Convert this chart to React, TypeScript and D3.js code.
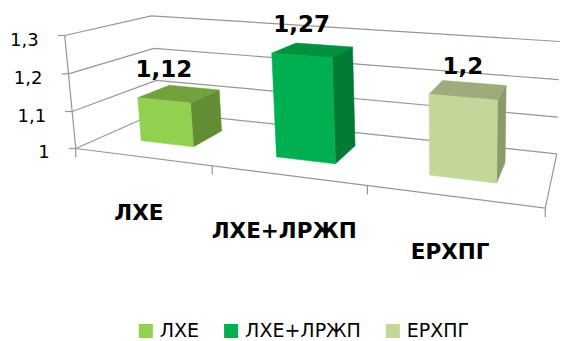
import React, { useEffect, useRef } from "react";
import * as d3 from "d3";

// Series data
const categories = ["ЛХЕ", "ЛХЕ+ЛРЖП", "ЕРХПГ"];
const values = [1.12, 1.27, 1.2];
const tickValues = [1, 1.1, 1.2, 1.3];
const valueDomain = [1, 1.3];

// Face colours per bar: front, top, right side
const frontFills = ["#92D050", "#00B050", "#C4D79B"];
const topFills = ["#73A13D", "#00913F", "#9DAC7B"];
const sideFills = ["#628D33", "#007A34", "#8A9A69"];

const W = 561;
const H = 341;
const FONT = "'DejaVu Sans', sans-serif";

// Corners of the 3-D plot box: [category fraction, value fraction, depth fraction] -> screen px
const frameAnchors: { box: [number, number, number]; px: [number, number] }[] = [
  { box: [0, 0, 0], px: [77, 148] },
  { box: [0, 1, 0], px: [65, 35] },
  { box: [0, 1 / 3, 0], px: [72, 111] },
  { box: [0, 2 / 3, 0], px: [68, 74] },
  { box: [0, 1, 1], px: [152, 16] },
  { box: [0, 2 / 3, 1], px: [153, 49] },
  { box: [1, 0, 0], px: [544, 208] },
  { box: [1, 0, 1], px: [557, 153] },
  { box: [1 / 3, 0, 0], px: [210, 166] },
  { box: [2 / 3, 0, 0], px: [370, 187] },
];

// Bars occupy the middle of the floor depth
const barDepth: [number, number] = [0.3, 0.7];

const ruLocale = d3.formatLocale({
  decimal: ",",
  thousands: "\u00a0",
  grouping: [3],
  currency: ["", " ₽"],
});
const fmt = ruLocale.format("~g");

// Fit a perspective (3x4) projection to the frame anchors by least squares
function fitProjection(anchors: typeof frameAnchors) {
  const cx = 300, cy = 150, s = 300;
  const rows: number[][] = [];
  const rhs: number[] = [];
  anchors.forEach(({ box: [u, v, w], px: [X, Y] }) => {
    const x = (X - cx) / s;
    const y = (Y - cy) / s;
    rows.push([u, v, w, 1, 0, 0, 0, 0, -x * u, -x * v, -x * w]);
    rhs.push(x);
    rows.push([0, 0, 0, 0, u, v, w, 1, -y * u, -y * v, -y * w]);
    rhs.push(y);
  });
  const n = 11;
  const M = Array.from({ length: n }, () => new Array(n + 1).fill(0));
  rows.forEach((r, k) => {
    for (let i = 0; i < n; i++) {
      for (let j = 0; j < n; j++) M[i][j] += r[i] * r[j];
      M[i][n] += r[i] * rhs[k];
    }
  });
  for (let c = 0; c < n; c++) {
    let p = c;
    for (let r = c + 1; r < n; r++) if (Math.abs(M[r][c]) > Math.abs(M[p][c])) p = r;
    [M[c], M[p]] = [M[p], M[c]];
    for (let r = 0; r < n; r++) {
      if (r === c) continue;
      const f = M[r][c] / M[c][c];
      for (let k = c; k <= n; k++) M[r][k] -= f * M[c][k];
    }
  }
  const m = M.map((r, i) => r[n] / r[i]);
  return (u: number, v: number, w: number): [number, number] => {
    const d = m[8] * u + m[9] * v + m[10] * w + 1;
    return [
      ((m[0] * u + m[1] * v + m[2] * w + m[3]) / d) * s + cx,
      ((m[4] * u + m[5] * v + m[6] * w + m[7]) / d) * s + cy,
    ];
  };
}

export default function App() {
  const ref = useRef<SVGSVGElement>(null);

  useEffect(() => {
    const svg = d3.select(ref.current);
    svg.selectAll("*").remove();

    const project = fitProjection(frameAnchors);
    const xBand = d3.scaleBand<string>().domain(categories).range([0, 1]).paddingInner(0.6).paddingOuter(0.3);
    const yVal = d3.scaleLinear().domain(valueDomain).range([0, 1]);
    const line = d3.line<[number, number]>();

    const gridColor = "#969696";
    const grid = svg.append("g").attr("fill", "none").attr("stroke", gridColor).attr("stroke-width", 1.2);

    // walls: gridlines along side wall and back wall
    tickValues.forEach((t) => {
      const v = yVal(t);
      grid.append("path").attr("d", line([project(0, v, 0), project(0, v, 1), project(1, v, 1)]));
    });
    // floor front and right edges
    grid.append("path").attr("d", line([project(0, 0, 0), project(1, 0, 0), project(1, 0, 1)]));
    // value axis
    grid.append("path").attr("d", line([project(0, 0, 0), project(0, 1, 0)]));

    // value ticks and labels
    tickValues.forEach((t) => {
      const [x, y] = project(0, yVal(t), 0);
      grid.append("path").attr("d", line([[x - 7, y], [x, y]]));
      svg.append("text")
        .attr("x", x - 26)
        .attr("y", y + 10)
        .attr("text-anchor", "end")
        .attr("font-family", FONT)
        .attr("font-size", 18)
        .attr("fill", "#000")
        .text(fmt(t));
    });

    // category boundary ticks on the front floor edge
    d3.range(categories.length + 1).forEach((i) => {
      const [x, y] = project(i / categories.length, 0, 0);
      grid.append("path").attr("d", line([[x, y], [x, y + 9]]));
    });

    // bars
    const [w0, w1] = barDepth;
    const bars = svg.append("g");
    categories.forEach((c, i) => {
      const u0 = xBand(c)!;
      const u1 = u0 + xBand.bandwidth();
      const v0 = 0;
      const v1 = yVal(values[i]);
      const face = (pts: [number, number, number][], fill: string) =>
        bars.append("path")
          .attr("d", line(pts.map(([u, v, w]) => project(u, v, w)))! + "Z")
          .attr("fill", fill)
          .attr("stroke", fill)
          .attr("stroke-width", 0.6)
          .attr("stroke-linejoin", "round");
      face([[u1, v0, w0], [u1, v0, w1], [u1, v1, w1], [u1, v1, w0]], sideFills[i]);
      face([[u0, v1, w0], [u1, v1, w0], [u1, v1, w1], [u0, v1, w1]], topFills[i]);
      face([[u0, v0, w0], [u1, v0, w0], [u1, v1, w0], [u0, v1, w0]], frontFills[i]);

      const [lx, ly] = project((u0 + u1) / 2, v1, w0);
      svg.append("text")
        .attr("x", lx)
        .attr("y", ly - 23)
        .attr("text-anchor", "middle")
        .attr("font-family", FONT)
        .attr("font-weight", "bold")
        .attr("font-size", 23)
        .attr("fill", "#000")
        .text(fmt(values[i]));

      const [cxp, cyp] = project((u0 + u1) / 2, 0, 0);
      svg.append("text")
        .attr("x", cxp - 3)
        .attr("y", cyp + 63)
        .attr("text-anchor", "middle")
        .attr("font-family", FONT)
        .attr("font-weight", "bold")
        .attr("font-size", 21.5)
        .attr("fill", "#000")
        .text(c);
    });

    // legend, centred under the plot
    const legend = svg.append("g");
    const sw = 14, gap = 7, itemGap = 25, baseline = 337;
    let cursor = 0;
    categories.forEach((c, i) => {
      const item = legend.append("g").attr("transform", `translate(${cursor},0)`);
      item.append("rect").attr("x", 0).attr("y", baseline - sw + 1).attr("width", sw).attr("height", sw).attr("fill", frontFills[i]);
      const t = item.append("text")
        .attr("x", sw + gap)
        .attr("y", baseline)
        .attr("font-family", FONT)
        .attr("font-size", 19)
        .attr("fill", "#000")
        .text(c);
      const tw = (t.node() as SVGTextElement).getComputedTextLength();
      cursor += sw + gap + tw + itemGap;
    });
    const total = cursor - itemGap;
    legend.attr("transform", `translate(${(304 - total / 2).toFixed(1)},0)`);
  }, []);

  return (
    <svg
      ref={ref}
      width={W}
      height={H}
      viewBox={`0 0 ${W} ${H}`}
      style={{ position: "absolute", left: 0, top: 0, background: "#fff" }}
    />
  );
}
